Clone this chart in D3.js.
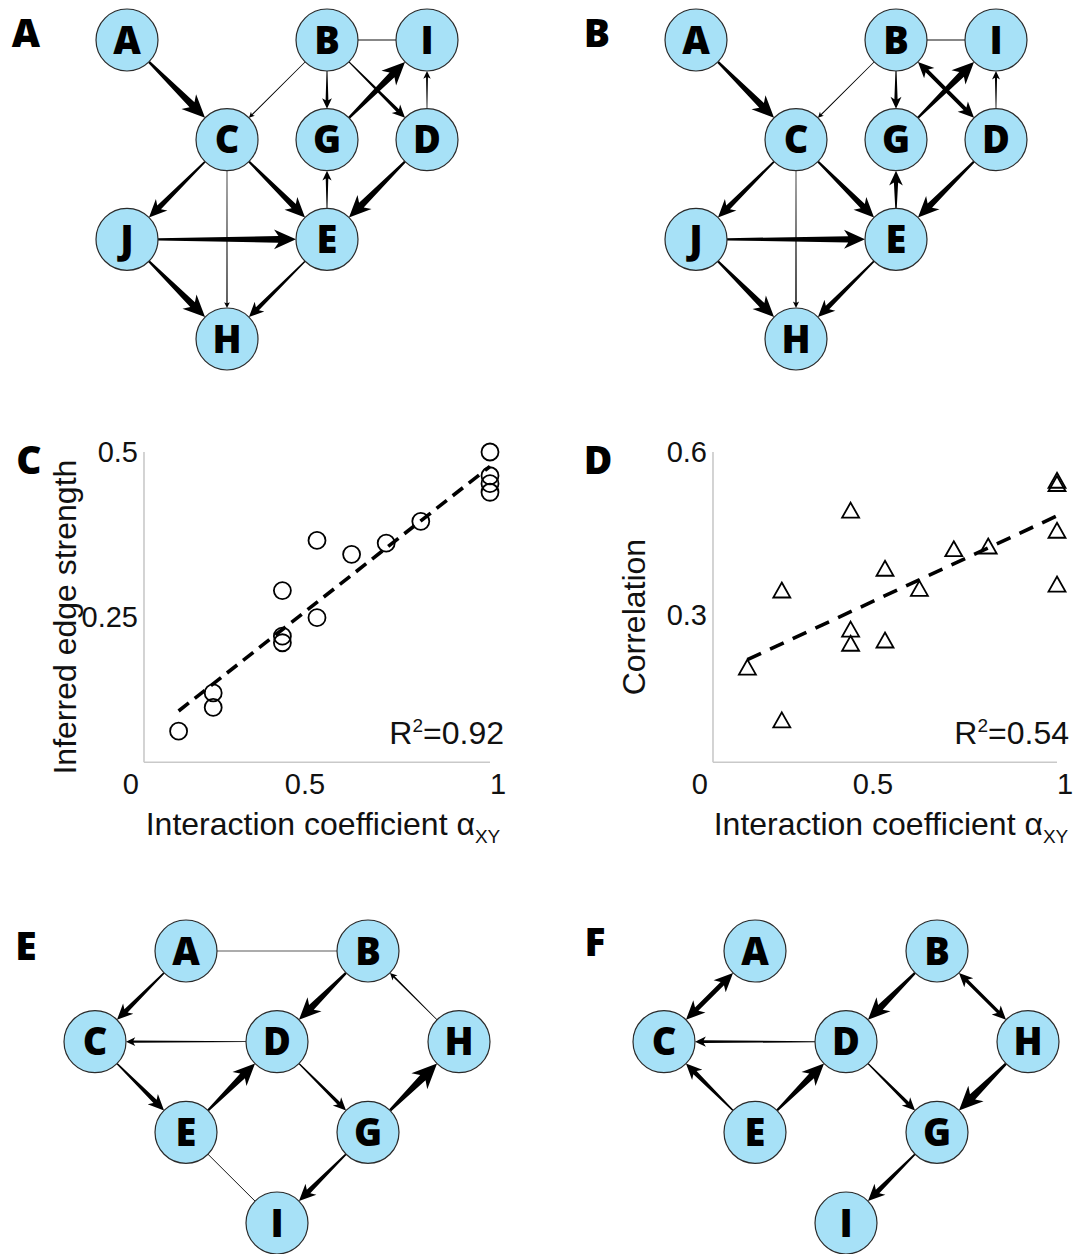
<!DOCTYPE html>
<html><head><meta charset="utf-8">
<script src="https://cdn.jsdelivr.net/npm/d3@7"></script>
<style>body{margin:0;background:#fff} svg{display:block}</style>
</head><body>
<svg id="fig" width="1082" height="1254"></svg>
<script>
// ================= DATA =================
// Networks A/B : node names with grid column/row in the diagram
const netAB_nodes = ["A","B","I","C","G","D","J","E","H"];
const netAB_col   = [0, 2, 3, 1, 2, 3, 0, 2, 1];
const netAB_row   = [0, 0, 0, 1, 1, 1, 2, 2, 3];
// edges: [source, target, strength 0..1, kind]
const netA_edges = [
  ["A","C",0.90,"->"], ["B","I",0.15,"--"], ["B","C",0.04,"->"], ["B","G",0.28,"->"],
  ["B","D",0.40,"->"], ["G","I",0.90,"->"], ["D","I",0.15,"->"], ["C","J",0.65,"->"],
  ["C","H",0.05,"->"], ["C","E",0.75,"->"], ["E","G",0.25,"->"], ["D","E",0.85,"->"],
  ["J","E",0.85,"->"], ["J","H",0.85,"->"], ["E","H",0.50,"->"]
];
const netB_edges = [
  ["A","C",0.85,"->"], ["B","I",0.15,"--"], ["B","C",0.04,"->"], ["B","G",0.35,"->"],
  ["B","D",0.55,"<->"], ["G","I",0.85,"->"], ["D","I",0.18,"->"], ["C","J",0.65,"->"],
  ["C","H",0.08,"->"], ["C","E",0.75,"->"], ["E","G",0.50,"->"], ["D","E",0.80,"->"],
  ["J","E",0.80,"->"], ["J","H",0.80,"->"], ["E","H",0.60,"->"]
];
// Networks E/F
const netEF_nodes = ["A","B","C","D","H","E","G","I"];
const netEF_col   = [1, 3, 0, 2, 4, 1, 3, 2];
const netEF_row   = [0, 0, 1, 1, 1, 2, 2, 3];
const netE_edges = [
  ["A","B",0.00,"--"], ["A","C",0.55,"->"], ["B","D",0.85,"->"], ["H","B",0.12,"->"],
  ["D","C",0.22,"->"], ["C","E",0.55,"->"], ["E","D",0.85,"->"], ["D","G",0.40,"->"],
  ["G","H",1.00,"->"], ["E","I",0.12,"--"], ["G","I",0.60,"->"]
];
const netF_edges = [
  ["A","C",0.70,"<->"], ["B","D",0.85,"->"], ["B","H",0.45,"<->"], ["D","C",0.30,"->"],
  ["E","C",0.55,"->"], ["E","D",0.85,"->"], ["D","G",0.40,"->"], ["H","G",0.95,"->"],
  ["G","I",0.60,"->"]
];
// Scatter C
const alphaC    = [0.1,0.2,0.2,0.4,0.4,0.4,0.5,0.5,0.6,0.7,0.8,1,1,1,1];
const strengthC = [0.077,0.135,0.113,0.290,0.221,0.211,0.366,0.249,0.345,0.362,0.395,0.500,0.464,0.452,0.439];
const r2C = "0.92";
const yTicksC = [0.5, 0.25];
// Scatter D
const alphaD = [0.1,0.2,0.2,0.4,0.4,0.4,0.5,0.5,0.6,0.7,0.8,1,1,1,1];
const corrD  = [0.204,0.346,0.107,0.493,0.274,0.248,0.386,0.254,0.349,0.422,0.427,0.548,0.542,0.456,0.357];
const r2D = "0.54";
const yTicksD = [0.6, 0.3];
const xTicks = [0, 0.5, 1];

// ================= DRAWING =================
const svg = d3.select("#fig");
const NODE_R = 31;
const bodyW   = d3.scaleLinear([0,1],[0.9,7.6]);
const headLen = d3.scaleLinear([0,1],[4.8,25]);
const headWid = d3.scaleLinear([0,1],[4.8,22.5]);
const lineW   = d3.scaleLinear([0,1],[0.7,3]);

function edgePath(p, q, w, kind){
  const dx=q[0]-p[0], dy=q[1]-p[1], L=Math.hypot(dx,dy);
  const ux=dx/L, uy=dy/L, nx=-uy, ny=ux;
  const s=[p[0]+ux*NODE_R, p[1]+uy*NODE_R], e=[q[0]-ux*NODE_R, q[1]-uy*NODE_R];
  const P=(pt,a,b)=>[pt[0]+ux*a+nx*b, pt[1]+uy*a+ny*b];
  const hl=headLen(w), hw=headWid(w), bw=bodyW(w);
  let pts;
  if(kind==="->"){
    const w0=Math.max(0.7, bw*0.35);
    pts=[P(s,0,w0/2), P(e,-hl*0.8,bw/2), P(e,-hl,hw/2), e, P(e,-hl,-hw/2), P(e,-hl*0.8,-bw/2), P(s,0,-w0/2)];
  } else {
    const bw2=bw*0.85;
    pts=[s, P(s,hl,hw/2), P(s,hl*0.8,bw2/2), P(e,-hl*0.8,bw2/2), P(e,-hl,hw/2), e,
         P(e,-hl,-hw/2), P(e,-hl*0.8,-bw2/2), P(s,hl*0.8,-bw2/2), P(s,hl,-hw/2)];
  }
  return "M"+pts.map(d=>d[0].toFixed(2)+","+d[1].toFixed(2)).join("L")+"Z";
}

function drawNet(nodes, cols, rows, edges, xr, yr, colMax, rowMax){
  const x=d3.scaleLinear([0,colMax],xr), y=d3.scaleLinear([0,rowMax],yr);
  const pos={}; nodes.forEach((n,i)=>pos[n]=[x(cols[i]),y(rows[i])]);
  const g=svg.append("g");
  const eg=g.append("g");
  edges.forEach(([a,b,w,k])=>{
    const p=pos[a], q=pos[b];
    if(k==="--"){
      const dx=q[0]-p[0], dy=q[1]-p[1], L=Math.hypot(dx,dy), ux=dx/L, uy=dy/L;
      eg.append("line").attr("x1",p[0]+ux*NODE_R).attr("y1",p[1]+uy*NODE_R)
        .attr("x2",q[0]-ux*NODE_R).attr("y2",q[1]-uy*NODE_R)
        .attr("stroke","#111").attr("stroke-width",lineW(w));
    } else {
      eg.append("path").attr("d",edgePath(p,q,w,k)).attr("fill","#000");
    }
  });
  const ng=g.selectAll("g.node").data(nodes).join("g").attr("class","node")
    .attr("transform",(d,i)=>`translate(${x(cols[i])},${y(rows[i])})`);
  ng.append("circle").attr("r",NODE_R).attr("fill","#a7e1f7").attr("stroke","#2a2a2a").attr("stroke-width",1.2);
  ng.append("text").text(d=>d).attr("text-anchor","middle").attr("dy","0.36em")
    .attr("font-family","'Open Sans', Lato, sans-serif").attr("font-weight",800)
    .attr("font-size",38).attr("fill","#000");
}

drawNet(netAB_nodes, netAB_col, netAB_row, netA_edges, [127,427], [40,339], 3, 3);
drawNet(netAB_nodes, netAB_col, netAB_row, netB_edges, [696,996], [40,339], 3, 3);
drawNet(netEF_nodes, netEF_col, netEF_row, netE_edges, [95,459], [951,1223], 4, 3);
drawNet(netEF_nodes, netEF_col, netEF_row, netF_edges, [664,1028], [951,1223], 4, 3);

// panel letters
const letters=[["A",26,47],["B",597,47],["C",29,474],["D",598,474],["E",26,960],["F",595,956]];
svg.selectAll("text.plab").data(letters).join("text").attr("class","plab")
  .attr("x",d=>d[1]).attr("y",d=>d[2]).attr("text-anchor","middle")
  .attr("font-family","'Open Sans', Lato, sans-serif").attr("font-weight",800).attr("font-size",39)
  .text(d=>d[0]);

function linFit(xs, ys){
  const mx=d3.mean(xs), my=d3.mean(ys);
  const sxy=d3.sum(xs,(v,i)=>(v-mx)*(ys[i]-my)), sxx=d3.sum(xs,v=>(v-mx)*(v-mx));
  const b=sxy/sxx; return [b, my-b*mx];
}

const FONT="'Liberation Sans', Arial, sans-serif";
function drawScatter(opt){
  const {xs, ys, xRange, yDomain, yRange, yAxisMin, yTicks, ytitle, r2, marker, dash} = opt;
  const x=d3.scaleLinear([0,1],xRange), y=d3.scaleLinear(yDomain,yRange);
  const g=svg.append("g");
  const axisBottom=y(yAxisMin);
  // axis lines
  g.append("line").attr("x1",x(0)).attr("x2",x(0)).attr("y1",y(yDomain[1])).attr("y2",axisBottom)
    .attr("stroke","#c9c9c9").attr("stroke-width",1.6);
  g.append("line").attr("x1",x(0)).attr("x2",x(1)).attr("y1",axisBottom).attr("y2",axisBottom)
    .attr("stroke","#c9c9c9").attr("stroke-width",1.6);
  // y tick labels
  g.selectAll("text.yt").data(yTicks).join("text").attr("class","yt")
    .attr("x",x(0)-6).attr("y",d=>y(d)).attr("dy","0.36em").attr("text-anchor","end")
    .attr("font-family",FONT).attr("font-size",29).attr("fill","#111").text(d=>d);
  // x tick labels
  g.selectAll("text.xt").data(xTicks).join("text").attr("class","xt")
    .attr("x",d=>x(d)).attr("y",axisBottom+21).attr("dy","0.36em")
    .attr("text-anchor",d=>d===0?"end":d===1?"start":"middle")
    .attr("dx",d=>d===0?-5:d===1?0:-12)
    .attr("font-family",FONT).attr("font-size",29).attr("fill","#111").text(d=>d);
  // regression
  const [b,a]=linFit(xs,ys);
  const ext=d3.extent(xs);
  g.append("path").attr("d",d3.line()(ext.map(v=>[x(v),y(a+b*v)])))
    .attr("stroke","#000").attr("stroke-width",3.6).attr("stroke-dasharray",dash).attr("fill","none");
  // markers
  const sym = marker==="circle" ? d3.symbol().type(d3.symbolCircle).size(Math.PI*8.5*8.5)
    : d3.symbol().type({draw(ctx,size){const w=17,h=15;ctx.moveTo(0,-h/2);ctx.lineTo(w/2,h/2);ctx.lineTo(-w/2,h/2);ctx.closePath();}});
  g.selectAll("path.pt").data(xs).join("path").attr("class","pt")
    .attr("transform",(d,i)=>`translate(${x(d)},${y(ys[i])})`)
    .attr("d",sym()).attr("fill","none").attr("stroke","#000").attr("stroke-width",1.8);
  // R2
  const rt=g.append("text").attr("x",xRange[1]+(marker==="circle"?14:12)).attr("y",744)
    .attr("text-anchor","end").attr("font-family",FONT).attr("font-size",32).attr("fill","#111");
  rt.append("tspan").text("R");
  rt.append("tspan").attr("font-size",19).attr("dy",-12).text("2");
  rt.append("tspan").attr("dy",12).text("="+r2);
  // x title
  const xt=g.append("text").attr("x",(x(0)+x(1))/2+6).attr("y",835).attr("text-anchor","middle")
    .attr("font-family",FONT).attr("font-size",32).attr("fill","#111");
  xt.append("tspan").text("Interaction coefficient α");
  xt.append("tspan").attr("font-size",19).attr("dy",8).text("XY");
  // y title
  g.append("text").attr("transform",`translate(${x(0)-68},${(y(yDomain[1])+axisBottom)/2+10}) rotate(-90)`)
    .attr("text-anchor","middle").attr("font-family",FONT).attr("font-size",32).attr("fill","#111").text(ytitle);
}

drawScatter({xs:alphaC, ys:strengthC, xRange:[144,490], yDomain:[0,0.5], yRange:[782,452], yAxisMin:0.03,
  yTicks:yTicksC, ytitle:"Inferred edge strength", r2:r2C, marker:"circle", dash:"13,7.5"});
drawScatter({xs:alphaD, ys:corrD, xRange:[713,1057], yDomain:[0,0.6], yRange:[778,452], yAxisMin:0.029,
  yTicks:yTicksD, ytitle:"Correlation", r2:r2D, marker:"triangle", dash:"15,10"});
</script>
</body></html>
